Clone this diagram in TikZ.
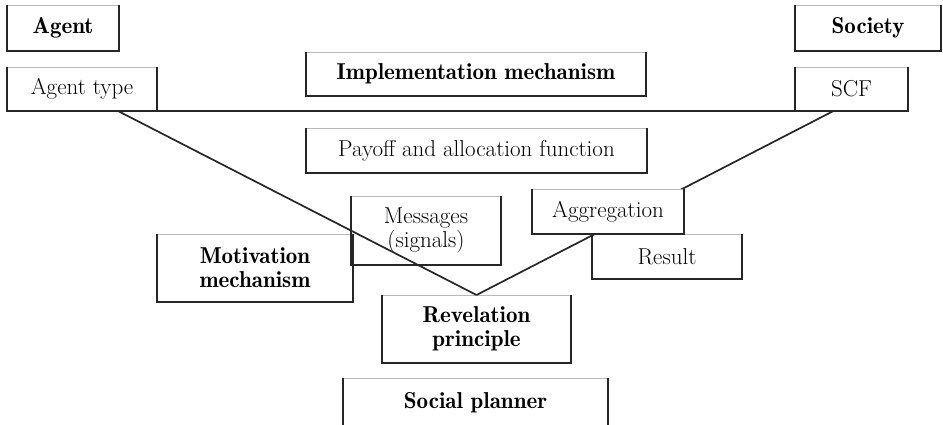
\documentclass[tikz,border=0pt]{standalone}
\usepackage{fontspec}
\usepackage{tikz}
\usetikzlibrary{calc}
\newfontfamily\demifont{Latin Modern Roman Demi}
\newcommand{\hd}[1]{{\demifont #1}}

\begin{document}
\begin{tikzpicture}[
  x=1pt,y=-1pt,
  font=\fontsize{23}{24}\selectfont,
  box/.style={draw=gray!55,line width=0.5pt,fill=white,align=center,inner sep=2pt,outer sep=0pt},
  side/.style={line width=1.3pt,black!85},
  link/.style={line width=1.7pt,black!85}
]
\useasboundingbox (0,0) rectangle (943,424);
\clip (0,0) rectangle (943,424);

\node[box,minimum width=112,minimum height=46] (agent) at (63,28) {\hd{Agent}};
\node[box,minimum width=150,minimum height=44] (agenttype) at (82,89) {Agent type};
\node[box,minimum width=146,minimum height=46] (society) at (868,28) {\hd{Society}};
\node[box,minimum width=113,minimum height=44] (scf) at (851.5,89) {SCF};
\node[box,minimum width=340,minimum height=44] (impl) at (476,74) {\hd{Implementation mechanism}};
\node[box,minimum width=341,minimum height=45] (payoff) at (476.5,150.5) {Payoff and allocation function};
\node[box,minimum width=150,minimum height=69] (messages) at (426,230.5) {Messages\\(signals)};
\node[box,minimum width=196,minimum height=68] (motivation) at (255,268) {\hd{Motivation}\\\hd{mechanism}};
\node[box,minimum width=150,minimum height=45] (result) at (667,256.5) {Result};
\node[box,minimum width=189,minimum height=68] (revelation) at (476.5,329) {\hd{Revelation}\\\hd{principle}};
\node[box,minimum width=265,minimum height=50] (planner) at (475.5,403) {\hd{Social planner}};

% the V from agent type and SCF down to the revelation principle
\draw[link] (agenttype.south east) -- (scf.south west);
\draw[link] ($(agenttype.south west)!0.74!(agenttype.south east)$) -- (revelation.north);
\draw[link] ($(scf.south west)!0.34!(scf.south east)$) -- (revelation.north);

\node[box,minimum width=152,minimum height=45] (aggregation) at (608,211.5) {Aggregation};

\foreach \n in {agent,agenttype,society,scf,impl,payoff,messages,motivation,aggregation,result,revelation,planner}
  \draw[side] (\n.north west) -- (\n.south west) -- (\n.south east) -- (\n.north east);
\end{tikzpicture}
\end{document}
